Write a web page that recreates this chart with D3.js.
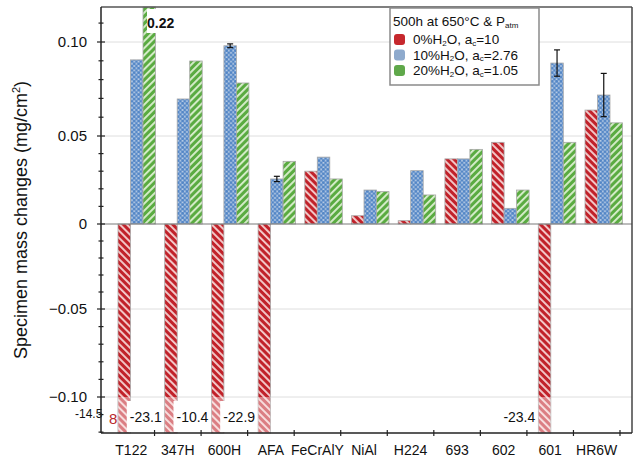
<!DOCTYPE html>
<html><head><meta charset="utf-8">
<script src="https://cdn.jsdelivr.net/npm/d3@7"></script>
<style>body{margin:0;background:#fff} svg{display:block} text{font-family:"Liberation Sans",Arial,Helvetica,sans-serif;fill:#111}</style>
</head><body><svg id="c" width="641" height="462"></svg>
<script>
// ---- data ----
const categories = ["T122","347H","600H","AFA","FeCrAlY","NiAl","H224","693","602","601","HR6W"];
const h2o0  = [-14.58, -23.1, -10.4, -22.9, 0.030, 0.0047, 0.0019, 0.037, 0.0464, -23.4, 0.0638];
const h2o10 = [0.0905, 0.0697, 0.098, 0.0256, 0.038, 0.0193, 0.0303, 0.037, 0.0089, 0.0888, 0.0718];
const h2o20 = [0.22, 0.0899, 0.0782, 0.0356, 0.0256, 0.0184, 0.0165, 0.0424, 0.0193, 0.0464, 0.057];
const err10 = [null, null, 0.001, 0.0015, null, null, null, null, null, 0.007, 0.0115];
const yTicks = [-0.10, -0.05, 0, 0.05, 0.10];
const minorTicks = [-0.12,-0.11,-0.10,-0.09,-0.08,-0.07,-0.06,-0.05,-0.04,-0.03,-0.02,-0.01,0,0.01,0.02,0.03,0.04,0.05,0.06,0.07,0.08,0.09,0.10,0.11];
const gridVals = [-0.10, -0.05, 0.05, 0.10];
const negLabels = [{cat:"347H",text:"-23.1"},{cat:"600H",text:"-10.4"},{cat:"AFA",text:"-22.9"},{cat:"601",text:"-23.4"}];
const topLabel = {cat:"T122", text:"0.22"};
const legendTitle = "500h at 650°C & P";
const legendItems = [
  {pre:"0%H", post:"O, a", tail:"=10"},
  {pre:"10%H", post:"O, a", tail:"=2.76"},
  {pre:"20%H", post:"O, a", tail:"=1.05"}
];
const seriesValues = [h2o0, h2o10, h2o20];

// ---- layout ----
const L = 101, R = 632, T = 7, B = 433;
const svg = d3.select("#c");
const y = d3.scaleLinear()
  .domain([-0.1205, -0.1, -0.05, 0, 0.05, 0.1, 0.1185])
  .range([B, 397, 309, 224, 136, 42, T]).clamp(true);
const x = d3.scaleBand().domain(categories).range([118, 622.5]).paddingInner(0.197).paddingOuter(0);
const xs = d3.scaleBand().domain([0,1,2]).range([0, x.bandwidth()]);
const xl = d3.scaleBand().domain(categories).range([108, 620]);

// ---- patterns ----
const defs = svg.append("defs");
const pr = defs.append("pattern").attr("id","pr").attr("width",5).attr("height",5)
  .attr("patternUnits","userSpaceOnUse").attr("patternTransform","rotate(-45)");
pr.append("rect").attr("width",5).attr("height",5).attr("fill","#c1222a");
pr.append("rect").attr("width",1.9).attr("height",5).attr("fill","#f4cdcd");
const pg = defs.append("pattern").attr("id","pg").attr("width",5).attr("height",5)
  .attr("patternUnits","userSpaceOnUse").attr("patternTransform","rotate(45)");
pg.append("rect").attr("width",5).attr("height",5).attr("fill","#5aab41");
pg.append("rect").attr("width",1.9).attr("height",5).attr("fill","#d9eecd");
const pb = defs.append("pattern").attr("id","pb").attr("width",4.4).attr("height",4.4)
  .attr("patternUnits","userSpaceOnUse");
pb.append("rect").attr("width",4.4).attr("height",4.4).attr("fill","#cddbec");
[[0,0],[4.4,0],[0,4.4],[4.4,4.4],[2.2,2.2]].forEach(p=>pb.append("circle").attr("cx",p[0]).attr("cy",p[1]).attr("r",1.55).attr("fill","#5386c6"));
const fills = ["url(#pr)","url(#pb)","url(#pg)"];

// ---- grid ----
svg.append("g").selectAll("line").data(gridVals).join("line")
  .attr("x1",L).attr("x2",R).attr("y1",d=>y(d)).attr("y2",d=>y(d))
  .attr("stroke","#dedede").attr("stroke-width",1);

// ---- bars ----
const bars = [];
categories.forEach((c,i)=>seriesValues.forEach((arr,s)=>bars.push({c,s,v:arr[i],e:s===1?err10[i]:null})));
const gb = svg.append("g");
gb.selectAll("rect").data(bars).join("rect")
  .attr("x",d=>x(d.c)+xs(d.s)).attr("width",xs.bandwidth())
  .attr("y",d=>Math.min(y(0),y(d.v))).attr("height",d=>Math.abs(y(d.v)-y(0)))
  .attr("fill",d=>fills[d.s]).attr("stroke","#a8a8a8").attr("stroke-width",0.8);
// faded lower segment of broken negative bars
gb.selectAll("rect.fade").data(bars.filter(d=>d.v < -0.1)).join("rect").attr("class","fade")
  .attr("x",d=>x(d.c)+xs(d.s)).attr("width",xs.bandwidth())
  .attr("y",y(-0.1)).attr("height",y(-1)-y(-0.1))
  .attr("fill","#fff").attr("opacity",0.42);

// error bars
const eb = bars.filter(d=>d.e!=null);
const ge = svg.append("g").attr("stroke","#111").attr("stroke-width",1.2);
eb.forEach(d=>{
  const cx = x(d.c)+xs(d.s)+xs.bandwidth()/2;
  ge.append("line").attr("x1",cx).attr("x2",cx).attr("y1",y(d.v+d.e)).attr("y2",y(d.v-d.e));
  ge.append("line").attr("x1",cx-3).attr("x2",cx+3).attr("y1",y(d.v+d.e)).attr("y2",y(d.v+d.e));
  ge.append("line").attr("x1",cx-3).attr("x2",cx+3).attr("y1",y(d.v-d.e)).attr("y2",y(d.v-d.e));
});

// zero line
svg.append("line").attr("x1",L).attr("x2",R).attr("y1",y(0)).attr("y2",y(0)).attr("stroke","#7a7a7a").attr("stroke-width",1.2);

// ---- value labels for off-scale bars ----
const gl = svg.append("g");
negLabels.forEach(n=>{
  const xr = x(n.cat) - 3;
  const t = gl.append("text").attr("x",xr).attr("y",y(-0.1)+25).attr("text-anchor","end")
    .attr("font-size",14).text(n.text);
  const bb = t.node().getBBox();
  gl.insert("rect","text").attr("x",bb.x-3).attr("y",y(-0.1)+4).attr("width",bb.width+5).attr("height",B-y(-0.1)-5)
    .attr("fill","#fff");
});
// T122 special label (-14.58, partly hidden)
{
  const xr = x("T122");
  gl.append("text").attr("x",xr-43).attr("y",y(-0.1)+21).attr("font-size",12).text("-14.5");
  gl.append("text").attr("x",xr-9).attr("y",y(-0.1)+27).attr("font-size",15).style("fill","#b8282c").text("8");
}
// top label 0.22
{
  const gx = x(topLabel.cat)+xs(2);
  gl.append("rect").attr("x",gx+4).attr("y",T+2).attr("width",30).attr("height",24).attr("fill","#fff");
  gl.append("text").attr("x",gx+4).attr("y",T+21).attr("font-size",14).attr("font-weight","bold").text(topLabel.text);
}

// ---- frame ----
svg.append("line").attr("x1",L).attr("x2",R).attr("y1",T).attr("y2",T).attr("stroke","#555").attr("stroke-width",1.5);
svg.append("line").attr("x1",R).attr("x2",R).attr("y1",T).attr("y2",B).attr("stroke","#444").attr("stroke-width",1.5);

// ---- y axis ----
const ya = svg.append("g").attr("transform",`translate(${L},0)`)
  .call(d3.axisLeft(y).tickValues(yTicks).tickSize(0).tickPadding(14)
    .tickFormat(d=> d===0 ? "0" : d3.format(".2f")(d)));
ya.select(".domain").remove();
ya.selectAll("text").attr("font-size",15).style("font-family","'Liberation Sans',Arial,sans-serif").attr("fill","#111");
svg.append("line").attr("x1",L).attr("x2",L).attr("y1",T).attr("y2",B).attr("stroke","#222").attr("stroke-width",1.5);
svg.append("g").selectAll("line").data(minorTicks).join("line")
  .attr("x1",d=>yTicks.some(t=>Math.abs(t-d)<1e-9)?L-4:L-2.5).attr("x2",d=>yTicks.some(t=>Math.abs(t-d)<1e-9)?L+4:L+2.5)
  .attr("y1",d=>y(d)).attr("y2",d=>y(d)).attr("stroke","#222").attr("stroke-width",1.2);

// ---- x axis ----
const xa = svg.append("g").attr("transform",`translate(0,${B})`)
  .call(d3.axisBottom(xl).tickSize(0).tickPadding(12));
xa.select(".domain").remove();
xa.selectAll("text").attr("font-size",14).style("font-family","'Liberation Sans',Arial,sans-serif").attr("fill","#111");
svg.append("line").attr("x1",L).attr("x2",R).attr("y1",B).attr("y2",B).attr("stroke","#222").attr("stroke-width",1.5);
svg.append("g").selectAll("line").data(categories).join("line")
  .attr("x1",d=>xl(d)+xl.step()).attr("x2",d=>xl(d)+xl.step())
  .attr("y1",B-3).attr("y2",B+3).attr("stroke","#222").attr("stroke-width",1.2);

// ---- y title ----
const yt = svg.append("text").attr("transform","translate(27,220) rotate(-90)").attr("text-anchor","middle")
  .attr("font-size",18);
yt.append("tspan").text("Specimen mass changes (mg/cm");
yt.append("tspan").attr("font-size",11).attr("dy",-7).text("2");
yt.append("tspan").attr("dy",7).text(")");

// ---- legend ----
const lg = svg.append("g");
lg.append("rect").attr("x",390).attr("y",8).attr("width",149).attr("height",77)
  .attr("fill","#fff").attr("stroke","#8a8a8a").attr("stroke-width",1.5);
const tt = lg.append("text").attr("x",393).attr("y",26).attr("font-size",13.5).text(legendTitle);
tt.append("tspan").attr("font-size",8).attr("dy",2).text("atm");
const patchCol = ["#c6282d","#8eaacd","#5fa84a"];
legendItems.forEach((it,k)=>{
  const yy = 44 + k*15.5;
  lg.append("rect").attr("x",394).attr("y",yy-10).attr("width",11).attr("height",11).attr("rx",3)
    .attr("fill",patchCol[k]);
  const t = lg.append("text").attr("x",413).attr("y",yy).attr("font-size",13.5);
  t.append("tspan").text(it.pre);
  t.append("tspan").attr("font-size",8).attr("dy",1.5).text("2");
  t.append("tspan").attr("dy",-1.5).text(it.post);
  t.append("tspan").attr("font-size",8).attr("dy",1.5).text("c");
  t.append("tspan").attr("dy",-1.5).text(it.tail);
});
</script></body></html>
